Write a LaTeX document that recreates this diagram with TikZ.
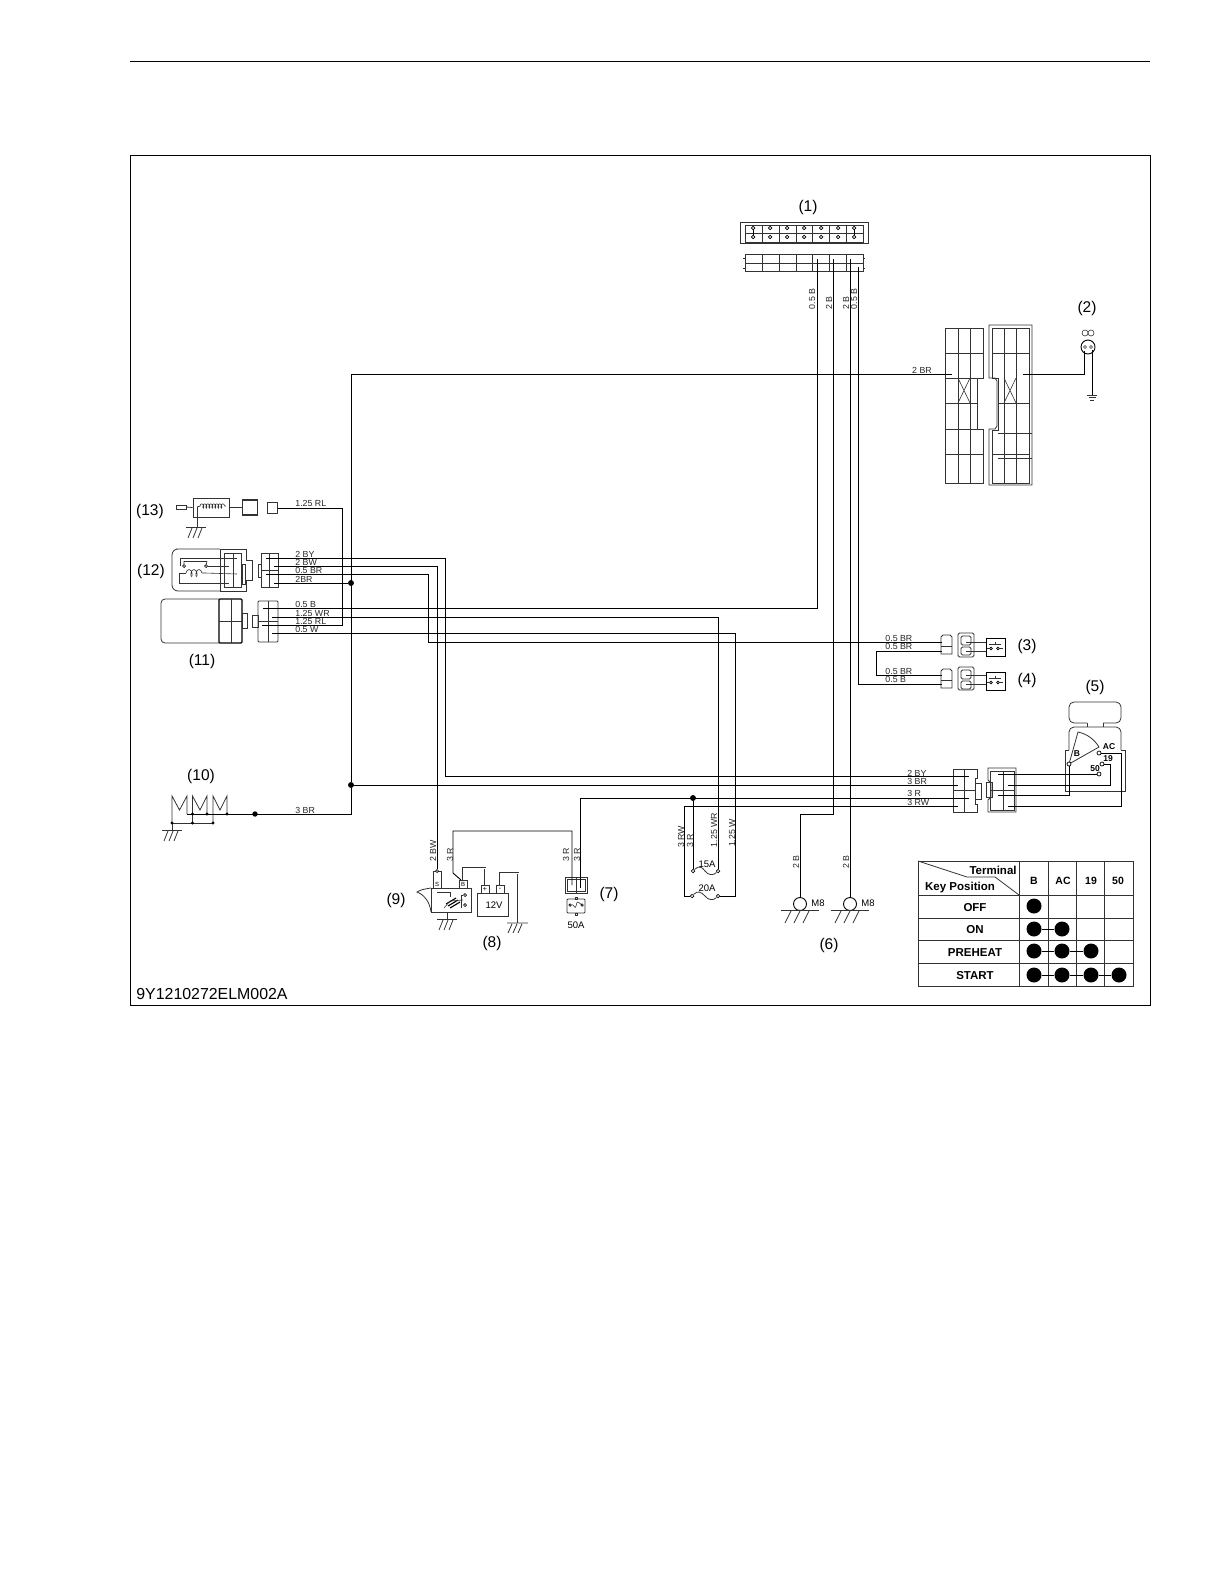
\documentclass[tikz,border=0pt]{standalone}
\usepackage{fontspec}
\setmainfont{Liberation Sans}
\usetikzlibrary{
	positioning,
	decorations.pathmorphing}
\tikzset{
	wiring/.style={
		x=1pt, y=-1pt,
		line width=.8pt,
		execute at begin picture={\useasboundingbox (0,0) rectangle (1224,1584);}
		},
	wire/.style={draw=black, line width=.9pt},
	part/.style={draw=black!80, line width=.8pt},
	fine/.style={draw=black!80, line width=.6pt},
	wire label/.style={
		font=\fontsize{8.8}{9}\selectfont,
		text=black!85,
		inner sep=0pt
		},
	wire label up/.style={wire label, rotate=90},
	item tag/.style={
		font=\fontsize{15.5}{16}\selectfont,
		inner sep=0pt
		},
	small tag/.style={
		font=\fontsize{9.5}{10}\selectfont,
		inner sep=0pt
		},
	key tag/.style={
		font=\fontsize{8.5}{9}\selectfont\bfseries,
		inner sep=0pt
		},
	table tag/.style={
		font=\fontsize{11.5}{12}\selectfont\bfseries,
		inner sep=0pt
		},
	joint/.style={
		circle,
		draw=black,
		fill=black,
		inner sep=0pt,
		minimum size=5pt
		},
	tick/.style={
		circle,
		draw=black,
		fill=black,
		inner sep=0pt,
		minimum size=2pt
		},
	pin/.style={
		circle,
		draw=black,
		fill=white,
		line width=.7pt,
		inner sep=0pt,
		minimum size=4pt
		},
	mount/.style={
		circle,
		draw=black,
		fill=white,
		line width=.9pt,
		inner sep=0pt,
		minimum size=13pt
		},
	key dot/.style={
		circle,
		fill=black,
		inner sep=0pt,
		minimum size=15pt
		},
	earth/.pic={
		\draw[part] (-10,0) -- (10,0);
		\draw[part] (-4,1) -- (-8,11) (1,1) -- (-3,11) (6,1) -- (2,11);
		},
	earth wide/.pic={
		\draw[part] (-19,0) -- (19,0);
		\draw[part] (-9,1) -- (-15,13) (0,1) -- (-6,13) (9,1) -- (3,13);
		},
	}
\begin{document}
\begin{tikzpicture}[wiring]
	% page rule and frame
	\draw[black, line width=1pt] (130,62) -- (1150,62);
	\draw[black, line width=1pt] (130,155.5) rectangle (1150,1005);
	\node[anchor=west, inner sep=0pt, font=\fontsize{15.9}{16}\selectfont] (code) at (136,994) {9Y1210272ELM002A};

	% item numbers
	\node[item tag] (tag1) at (808,207) {(1)};
	\node[item tag] (tag2) at (1087,308) {(2)};
	\node[item tag] (tag3) at (1027,646) {(3)};
	\node[item tag] (tag4) at (1027,680) {(4)};
	\node[item tag] (tag5) at (1095,687) {(5)};
	\node[item tag] (tag6) at (829,945) {(6)};
	\node[item tag] (tag7) at (609,894) {(7)};
	\node[item tag] (tag8) at (492,943) {(8)};
	\node[item tag] (tag9) at (396,900) {(9)};
	\node[item tag] (tag10) at (201,776) {(10)};
	\node[item tag] (tag11) at (202,661) {(11)};
	\node[item tag] (tag12) at (151,571) {(12)};
	\node[item tag] (tag13) at (150,511) {(13)};

	% connector (1)
	\draw[part] (740,222) rectangle (868,243);
	\draw[part] (745,225) rectangle (863,242);
	\draw[fine] (745,233) -- (863,233);
	\draw[fine] (762,225) -- (762,242) (779,225) -- (779,242) (796,225) -- (796,242)
		(812,225) -- (812,242) (829,225) -- (829,242) (846,225) -- (846,242);
	\node[pin, minimum size=3.5pt] (c1a) at (753,228) {};
	\node[pin, minimum size=3.5pt] (c1b) at (770,228) {};
	\node[pin, minimum size=3.5pt] (c1c) at (787,228) {};
	\node[pin, minimum size=3.5pt] (c1d) at (804,228) {};
	\node[pin, minimum size=3.5pt] (c1e) at (821,228) {};
	\node[pin, minimum size=3.5pt] (c1f) at (838,228) {};
	\node[pin, minimum size=3.5pt] (c1g) at (854,228) {};
	\node[pin, minimum size=3.5pt] (c2a) at (753,237) {};
	\node[pin, minimum size=3.5pt] (c2b) at (770,237) {};
	\node[pin, minimum size=3.5pt] (c2c) at (787,237) {};
	\node[pin, minimum size=3.5pt] (c2d) at (804,237) {};
	\node[pin, minimum size=3.5pt] (c2e) at (821,237) {};
	\node[pin, minimum size=3.5pt] (c2f) at (838,237) {};
	\node[pin, minimum size=3.5pt] (c2g) at (854,237) {};
	\draw[wire] (c1a) -- (c2a);
	\draw[wire] (c1g) -- (c2g);
	\draw[part] (745,254) rectangle (863,271);
	\draw[fine] (745,263) -- (863,263);
	\draw[fine] (762,254) -- (762,271) (779,254) -- (779,271) (796,254) -- (796,271)
		(812,254) -- (812,271) (829,254) -- (829,271) (846,254) -- (846,271);
	\draw[part] (743,258) -- (745,258) (743,268) -- (745,268) (863,258) -- (865,258) (863,268) -- (865,268);
	\coordinate (p1a) at (817,259);
	\coordinate (p1b) at (833,259);
	\coordinate (p1c) at (850,259);
	\coordinate (p1d) at (858,267);

	% large connector pair
	\draw[part] (945,328) rectangle (983,378);
	\draw[part] (945,429) rectangle (983,483);
	\draw[part] (945,378) -- (945,429) (977,378) -- (977,429);
	\draw[fine] (945,353) -- (983,353) (945,403) -- (977,403) (945,454) -- (983,454);
	\draw[part] (958,328) -- (958,483) (970,328) -- (970,483);
	\draw[fine] (958,378) -- (970,403) (970,378) -- (958,403);
	\draw[part] (989,325) -- (1032,325) -- (1032,485) -- (989,485) -- (989,429) -- (995,429) -- (997,426)
		-- (997,381) -- (995,378) -- (989,378) -- cycle;
	\draw[part] (992,328) -- (1029,328) -- (1029,483) -- (992,483) -- (992,430) -- (998,430)
		-- (998,378) -- (992,378) -- cycle;
	\draw[fine] (992,353) -- (1029,353) (998,403) -- (1029,403) (992,454) -- (1029,454);
	\draw[part] (1004,328) -- (1004,483) (1016,328) -- (1016,483);
	\draw[part] (998,433) -- (1032,433) (998,458) -- (1032,458);
	\draw[fine] (1004,378) -- (1016,403) (1016,378) -- (1004,403);
	\coordinate (pbig) at (952,374);
	\coordinate (qbig) at (1023,374);

	% lamp (2)
	\node[mount, minimum size=14pt] (lamp) at (1088,347) {};
	\draw[fine] (1085,347) circle [radius=1.5] (1091,347) circle [radius=1.5];
	\draw[fine] (1085,333) circle [radius=3] (1091,333) circle [radius=3];
	\coordinate (lampa) at (1084,351);
	\coordinate (lampb) at (1092,350);
	\coordinate (earth2) at (1092,395);
	\draw[part] (1087,395) -- (1097,395) (1088.5,397.5) -- (1095.5,397.5) (1090,400) -- (1094,400);

	% glow plug (13)
	\draw[part] (176,505) rectangle (186,509);
	\node[draw=black!80, minimum width=36pt, minimum height=19pt, inner sep=0pt] (heater) at (211,507.5) {};
	\draw[part] (186,507) -- (heater.west);
	\draw[fine, decorate, decoration={coil, segment length=3pt, amplitude=2.2pt}] (200,506) -- (226,506);
	\draw[part] (197,507) -- (200,506);
	\draw[part] (197,507) -- (197,527);
	\path (196,527) pic {earth};
	\node[draw=black!80, line width=1.6pt, minimum size=15pt, inner sep=0pt] (sock) at (250,507.5) {};
	\draw[part] (heater.east) -- (sock.west);
	\node[draw=black!80, minimum size=10.5pt, inner sep=0pt] (plug13) at (272.5,508) {};

	% relay (12)
	\draw[part, rounded corners=6pt] (220,549) -- (182,549) -- (172,549) -- (172,591) -- (220,591);
	\draw[part] (220,549) -- (246,549) -- (246,560) -- (252,560) -- (252,580) -- (246,580) -- (246,591) -- (220,591) -- cycle;
	\draw[part] (224,553) rectangle (241,587);
	\draw[part] (233,553) -- (233,587);
	\draw[part] (242,564) rectangle (245,584);
	\draw[fine] (180,558) -- (237,558) (180,558) -- (180,566);
	\draw[fine] (184,561) -- (207,561);
	\node[pin, minimum size=3pt] (rel1) at (184,566) {};
	\node[pin, minimum size=3pt] (rel2) at (206,566) {};
	\draw[fine] (rel1) -- (184,561) (rel2) -- (207,561);
	\draw[fine] (rel2) -- (229,566);
	\draw[fine, decorate, decoration={coil, segment length=5pt, amplitude=3.5pt}] (186,573) -- (205,573);
	\draw[fine] (205,573) -- (237,574);
	\draw[fine] (186,573) -- (179,573) -- (179,583) -- (229,583);
	\draw[part] (261,553) rectangle (278,587);
	\draw[part] (269,553) -- (269,587) (261,570) -- (278,570);
	\draw[part] (258,564) rectangle (261,577);
	\coordinate (p12a) at (266,558);
	\coordinate (p12b) at (274,566);
	\coordinate (p12c) at (266,574);
	\coordinate (p12d) at (274,583);

	% starter motor (11)
	\draw[part, rounded corners=4pt] (219,599) -- (161,599) -- (161,643) -- (219,643);
	\draw[draw=black, line width=1.2pt, rounded corners=1pt] (219,599) rectangle (242,643);
	\draw[part] (231,599) -- (231,643) (219,621) -- (242,621);
	\draw[part] (242,613) rectangle (247,628);
	\draw[part, rounded corners=1pt] (258,601) rectangle (278,642);
	\draw[part] (268,601) -- (268,642) (258,621) -- (278,621);
	\draw[part] (252,615) rectangle (258,627);
	\coordinate (p11a) at (263,608);
	\coordinate (p11b) at (272,617);
	\coordinate (p11c) at (262,625);
	\coordinate (p11d) at (272,633);

	% switches (3) and (4)
	\draw[part] (941,637) -- (943,635) -- (950,635) -- (952,637) -- (952,654) -- (941,654) -- cycle;
	\draw[part] (941,646) -- (952,646);
	\draw[part, rounded corners=1.5pt] (958,633) rectangle (974,657);
	\draw[part, rounded corners=1.5pt] (961,636) rectangle (971,645);
	\draw[part, rounded corners=1.5pt] (961,647) rectangle (971,655);
	\node[draw=black, line width=.9pt, minimum width=19pt, minimum height=18pt, inner sep=0pt] (sw3) at (995.5,647) {};
	\node[pin, minimum size=2.8pt] (sw3a) at (991,648.5) {};
	\node[pin, minimum size=2.8pt] (sw3b) at (998,648.5) {};
	\draw[fine] (989,644.5) -- (1001,644.5) (995,641.5) -- (995,644.5);
	\draw[fine] (987,648.5) -- (sw3a) (sw3b) -- (1003,648.5);
	\draw[part] (941,671) -- (943,669) -- (950,669) -- (952,671) -- (952,688) -- (941,688) -- cycle;
	\draw[part] (941,680) -- (952,680);
	\draw[part, rounded corners=1.5pt] (958,667) rectangle (974,690);
	\draw[part, rounded corners=1.5pt] (961,670) rectangle (971,679);
	\draw[part, rounded corners=1.5pt] (961,681) rectangle (971,689);
	\node[draw=black, line width=.9pt, minimum width=19pt, minimum height=18pt, inner sep=0pt] (sw4) at (995.5,681) {};
	\node[pin, minimum size=2.8pt] (sw4a) at (991,682.5) {};
	\node[pin, minimum size=2.8pt] (sw4b) at (998,682.5) {};
	\draw[fine] (989,678.5) -- (1001,678.5) (995,675.5) -- (995,678.5);
	\draw[fine] (987,682.5) -- (sw4a) (sw4b) -- (1003,682.5);
	\coordinate (p3a) at (942,642);
	\coordinate (p3b) at (942,651);
	\coordinate (p4a) at (942,675);
	\coordinate (p4b) at (942,684);
	\draw[part] (966,642) -- (sw3.west |- 0,642);
	\draw[part] (966,651) -- (sw3.west |- 0,651);
	\draw[part] (966,675) -- (sw4.west |- 0,675);
	\draw[part] (966,684) -- (sw4.west |- 0,684);

	% key switch (5)
	\draw[part, rounded corners=5pt] (1087,723) -- (1069,723) -- (1069,702) -- (1121,702) -- (1121,723) -- (1103,723);
	\draw[part] (1087,723) -- (1087,727) (1103,723) -- (1103,727);
	\draw[part, rounded corners=5pt] (1069,750) -- (1069,727) -- (1121,727) -- (1121,750);
	\draw[part] (1069,750) -- (1065,750) -- (1065,791) -- (1125,791) -- (1125,750) -- (1121,750);
	\draw[part] (1069,764) -- (1078,732) .. controls (1087,734) and (1094,739) .. (1099,747) -- cycle;
	\node[pin] (keyB) at (1069,764) {};
	\node[pin] (keyAC) at (1099,753) {};
	\node[pin] (key19) at (1102,764) {};
	\node[pin] (key50) at (1099,774) {};
	\node[key tag] (lblB) at (1077,754) {B};
	\node[key tag] (lblAC) at (1109,747) {AC};
	\node[key tag] (lbl19) at (1108,759) {19};
	\node[key tag] (lbl50) at (1095,769) {50};

	% connector pair at (5)
	\draw[part] (953,769) -- (977,769) -- (977,778) -- (975,778) -- (975,804) -- (977,804) -- (977,812) -- (953,812) -- cycle;
	\draw[part] (964,769) -- (964,812) (953,790) -- (975,790);
	\draw[part] (975,783) rectangle (981,799);
	\draw[part] (988,768) -- (1016,768) -- (1016,812) -- (988,812) -- (988,800) -- (991,797) -- (991,783) -- (988,780) -- cycle;
	\draw[part] (990,771) rectangle (1014,810);
	\draw[part] (1003,771) -- (1003,810) (990,790) -- (1014,790);
	\draw[part] (986,782) rectangle (992,797);
	\coordinate (p5a) at (969,776);
	\coordinate (p5b) at (958,785);
	\coordinate (p5c) at (969,798);
	\coordinate (p5d) at (958,806);
	\coordinate (q5a) at (998,774);
	\coordinate (q5b) at (1008,785);
	\coordinate (q5c) at (998,795);
	\coordinate (q5d) at (1008,806);

	% ignition coils (10)
	\draw[part] (172,823) -- (172,796) -- (179.5,810) -- (187,796) -- (187,814);
	\draw[part] (192.5,823) -- (192.5,796) -- (200,810) -- (207,796) -- (207,814);
	\draw[part] (213,823) -- (213,796) -- (220,810) -- (227,796) -- (227,814);
	\draw[part] (172,823) -- (213,823);
	\draw[part] (172,823) -- (172,830);
	\node[tick] (t10a) at (192.5,814) {};
	\node[tick] (t10b) at (207,814) {};
	\node[tick] (t10c) at (227,814) {};
	\node[tick] (t10d) at (172,823) {};
	\node[tick] (t10e) at (192.5,823) {};
	\node[tick] (t10f) at (213,823) {};
	\node[joint, minimum size=4.5pt] (plug10) at (255,814) {};
	\path (172,830) pic {earth};
	\coordinate (p10) at (187,814);

	% relay (9) and battery (8)
	\draw[part] (431,888) rectangle (471,912);
	\draw[part] (431,888) .. controls (424,889) and (420,890) .. (417,892) .. controls (425,895) and (430,903) .. (431,912);
	\draw[part] (433,871) rectangle (441,888);
	\draw[part] (459,880) rectangle (467,888);
	\node[small tag, font=\fontsize{6}{6}\selectfont] (lblS) at (437,884) {S};
	\node[small tag, font=\fontsize{6}{6}\selectfont] (lblR) at (463,884) {B};
	\node[pin, minimum size=3pt] (s9) at (437,871) {};
	\draw[part] (447,912) -- (447,919);
	\path (447,919) pic {earth};
	\draw[fine] (437,892) -- (450,892) -- (450,897);
	\draw[draw=black, line width=1.1pt] (446,904) -- (456,898) (448,906) -- (458,900) (450,908) -- (460,902);
	\draw[fine] (444,908) -- (450,901) -- (463,900);
	\node[pin, minimum size=3pt] (rl1) at (465,895) {};
	\node[pin, minimum size=3pt] (rl2) at (465,905) {};
	\draw[fine] (461,908) -- (461,895) -- (rl1);
	\draw[part] (477,893) rectangle (508,916);
	\draw[part] (481,885) rectangle (489,893);
	\draw[part] (496,885) rectangle (504,893);
	\node[small tag, font=\fontsize{7}{7}\selectfont] (plus) at (485,889) {+};
	\node[small tag, font=\fontsize{7}{7}\selectfont] (minus) at (500,889) {-};
	\node[small tag] (volt) at (494,905) {12V};
	\draw[part, double, double distance=.9pt] (463,880) -- (463,868) -- (485,868) -- (485,885);
	\draw[part, double, double distance=.9pt] (500,885) -- (500,873) -- (518,873) -- (518,923);
	\draw[part] (507,923) -- (528,923) (512,924) -- (508,933) (517,924) -- (513,933) (522,924) -- (518,933);
	\coordinate (b9) at (461,880);

	% fuse block (7)
	\draw[part] (565,877) rectangle (587,893);
	\draw[part] (567,879) rectangle (585,891);
	\draw[part] (576,877) -- (576,893);
	\draw[part, rounded corners=1pt] (567,899) rectangle (585,913);
	\node[pin, minimum size=2.5pt] (f7a) at (570,905) {};
	\node[pin, minimum size=2.5pt] (f7b) at (582,905) {};
	\draw[fine] (f7a) .. controls (574,904) and (575,910) .. (576,906) .. controls (577,900) and (578,902) .. (f7b);
	\draw[part] (575,897) rectangle (577,899);
	\draw[part] (575,913) rectangle (577,915);
	\node[small tag] (lbl50A) at (576,925) {50A};
	\coordinate (p7a) at (572,885);
	\coordinate (p7b) at (580,888);

	% fuses 15A and 20A
	\node[pin, minimum size=3.5pt] (f15l) at (693,871) {};
	\node[pin, minimum size=3.5pt] (f15r) at (718,871) {};
	\node[pin, minimum size=3.5pt] (f20l) at (692,896) {};
	\node[pin, minimum size=3.5pt] (f20r) at (718,896) {};
	\draw[part] (f15l) .. controls (699,865) and (702,867) .. (705,871) .. controls (708,875) and (713,876) .. (f15r);
	\draw[part] (f20l) .. controls (698,890) and (701,892) .. (705,896) .. controls (708,900) and (713,901) .. (f20r);
	\node[small tag] (lbl15A) at (707,864) {15A};
	\node[small tag] (lbl20A) at (707,888) {20A};

	% earth points (6)
	\node[mount] (m8a) at (800,904) {};
	\node[mount] (m8b) at (850,904) {};
	\path (800,910) pic {earth wide};
	\path (850,910) pic {earth wide};
	\node[small tag, anchor=west] (lblM8a) at (811,903) {M8};
	\node[small tag, anchor=west] (lblM8b) at (861,903) {M8};

	% wires
	\draw[wire] (p1a) |- (p11a);
	\draw[wire] (p1b) -- ++(0,555) -| (m8a.north);
	\draw[wire] (p1c) -- (m8b.north);
	\draw[wire] (p1d) |- (p4b);
	\node[joint] (j12) at (351,583) {};
	\node[joint] (j10) at (351,785) {};
	\node[joint] (j3r) at (693,798) {};
	\draw[wire] (pbig) -| (j10);
	\draw[wire] (j10) |- (p10);
	\draw[wire] (j10) -- (p5b);
	\draw[wire] (qbig) -| (lampa);
	\draw[wire] (lampb) -- (earth2);
	\draw[wire] (p12a) -- ++(179,0) |- (p5a);
	\draw[wire] (p12b) -| (s9);
	\draw[wire] (p12c) -- ++(162,0) |- (p3a);
	\draw[wire] (p12d) -- (j12);
	\draw[wire] (p11b) -| (f15r);
	\draw[wire] (p11c) -- ++(80,0) |- (plug13.east);
	\draw[wire] (p11d) -- ++(463,0) |- (f20r);
	\draw[wire] (f20l) -- ++(-8,0) |- (p5d);
	\draw[wire] (f15l) -- (j3r);
	\draw[wire] (p5c) -| (p7b);
	\draw[wire] (p7a) -- ++(0,-54) -| (453,873) -- (b9);
	\draw[wire] (p3b) -- ++(-66,0) |- (p4a);
	\draw[wire] (q5a) -- (key50);
	\draw[wire] (q5b) -- ++(102,0) |- (key19);
	\draw[wire] (q5c) -| (keyB);
	\draw[wire] (q5d) -- ++(113,0) |- (keyAC);

	% wire labels
	\node[wire label, anchor=west] (w1) at (295,503) {1.25 RL};
	\node[wire label, anchor=west] (w2) at (295,554) {2 BY};
	\node[wire label, anchor=west] (w3) at (295,562) {2 BW};
	\node[wire label, anchor=west] (w4) at (295,570) {0.5 BR};
	\node[wire label, anchor=west] (w5) at (295,579) {2BR};
	\node[wire label, anchor=west] (w6) at (295,604) {0.5 B};
	\node[wire label, anchor=west] (w7) at (295,613) {1.25 WR};
	\node[wire label, anchor=west] (w8) at (295,621) {1.25 RL};
	\node[wire label, anchor=west] (w9) at (295,629) {0.5 W};
	\node[wire label, anchor=west] (w10) at (295,810) {3 BR};
	\node[wire label] (w11) at (922,370) {2 BR};
	\node[wire label, anchor=west] (w12) at (885,638) {0.5 BR};
	\node[wire label, anchor=west] (w13) at (885,646) {0.5 BR};
	\node[wire label, anchor=west] (w14) at (885,671) {0.5 BR};
	\node[wire label, anchor=west] (w15) at (885,679) {0.5 B};
	\node[wire label, anchor=west] (w16) at (907,773) {2 BY};
	\node[wire label, anchor=west] (w17) at (907,781) {3 BR};
	\node[wire label, anchor=west] (w18) at (907,793) {3 R};
	\node[wire label, anchor=west] (w19) at (907,802) {3 RW};
	\node[wire label up] (u1) at (812,299) {0.5 B};
	\node[wire label up] (u2) at (829,303) {2 B};
	\node[wire label up] (u3) at (846,303) {2 B};
	\node[wire label up] (u4) at (854,299) {0.5 B};
	\node[wire label up] (u5) at (433,851) {2 BW};
	\node[wire label up] (u6) at (450,855) {3 R};
	\node[wire label up] (u7) at (566,855) {3 R};
	\node[wire label up] (u8) at (577,855) {3 R};
	\node[wire label up] (u9) at (681,837) {3 RW};
	\node[wire label up] (u10) at (690,841) {3 R};
	\node[wire label up] (u11) at (714,830) {1.25 WR};
	\node[wire label up] (u12) at (732,833) {1.25 W};
	\node[wire label up] (u13) at (796,862) {2 B};
	\node[wire label up] (u14) at (846,862) {2 B};

	% terminal table
	\draw[part] (918,861) rectangle (1133,986);
	\draw[part] (918,895) -- (1133,895) (918,918) -- (1133,918) (918,940) -- (1133,940) (918,963) -- (1133,963);
	\draw[part] (1019,861) -- (1019,986) (1048,861) -- (1048,986) (1076,861) -- (1076,986) (1104,861) -- (1104,986);
	\draw[part] (918,861) -- (967,877) -- (995,877) -- (1019,895);
	\node[table tag, anchor=east] (thT) at (1017,870) {Terminal};
	\node[table tag] (thK) at (960,888) {Key Position};
	\node[table tag, font=\fontsize{10.5}{11}\selectfont\bfseries] (thB) at (1034,881) {B};
	\node[table tag, font=\fontsize{10.5}{11}\selectfont\bfseries] (thAC) at (1063,881) {AC};
	\node[table tag, font=\fontsize{10.5}{11}\selectfont\bfseries] (th19) at (1091,881) {19};
	\node[table tag, font=\fontsize{10.5}{11}\selectfont\bfseries] (th50) at (1118,881) {50};
	\node[table tag] (rOFF) at (975,907.5) {OFF};
	\node[table tag] (rON) at (975,929.5) {ON};
	\node[table tag] (rPRE) at (975,953) {PREHEAT};
	\node[table tag] (rSTART) at (975,975.5) {START};
	\node[key dot] (off1) at (1034,906) {};
	\node[key dot] (on1) at (1034,929) {};
	\node[key dot] (on2) at (1062,929) {};
	\node[key dot] (pre1) at (1034,951) {};
	\node[key dot] (pre2) at (1062,951) {};
	\node[key dot] (pre3) at (1091,951) {};
	\node[key dot] (st1) at (1034,975) {};
	\node[key dot] (st2) at (1062,975) {};
	\node[key dot] (st3) at (1091,975) {};
	\node[key dot] (st4) at (1119,975) {};
	\draw[wire] (on1) -- (on2);
	\draw[wire] (pre1) -- (pre2);
	\draw[wire] (pre2) -- (pre3);
	\draw[wire] (st1) -- (st2);
	\draw[wire] (st2) -- (st3);
	\draw[wire] (st3) -- (st4);
\end{tikzpicture}
\end{document}
